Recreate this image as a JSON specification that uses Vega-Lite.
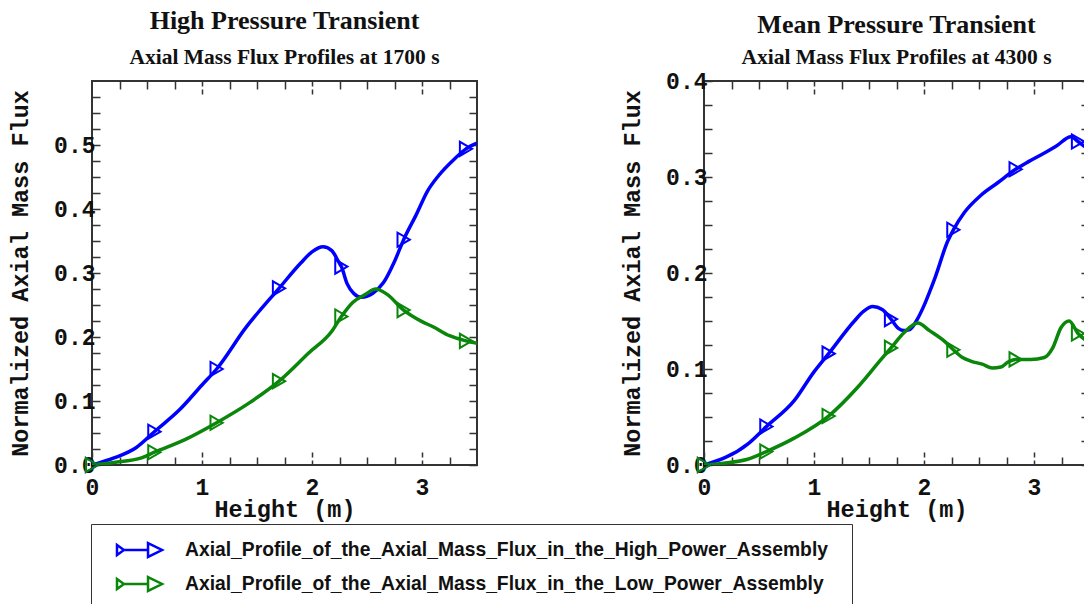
{
  "$schema": "https://vega.github.io/schema/vega-lite/v6.json",
  "background": "white",
  "padding": {"left": 7, "top": 6, "right": 0, "bottom": 0},
  "datasets": {
    "hp": [
      {"h": 0, "v": 0, "s": "Axial_Profile_of_the_Axial_Mass_Flux_in_the_High_Power_Assembly", "m": 1},
      {"h": 0.2, "v": 0.011, "s": "Axial_Profile_of_the_Axial_Mass_Flux_in_the_High_Power_Assembly", "m": 0},
      {"h": 0.4, "v": 0.027, "s": "Axial_Profile_of_the_Axial_Mass_Flux_in_the_High_Power_Assembly", "m": 0},
      {"h": 0.567, "v": 0.052, "s": "Axial_Profile_of_the_Axial_Mass_Flux_in_the_High_Power_Assembly", "m": 1},
      {"h": 0.8, "v": 0.087, "s": "Axial_Profile_of_the_Axial_Mass_Flux_in_the_High_Power_Assembly", "m": 0},
      {"h": 1.0, "v": 0.125, "s": "Axial_Profile_of_the_Axial_Mass_Flux_in_the_High_Power_Assembly", "m": 0},
      {"h": 1.133, "v": 0.15, "s": "Axial_Profile_of_the_Axial_Mass_Flux_in_the_High_Power_Assembly", "m": 1},
      {"h": 1.4, "v": 0.215, "s": "Axial_Profile_of_the_Axial_Mass_Flux_in_the_High_Power_Assembly", "m": 0},
      {"h": 1.7, "v": 0.276, "s": "Axial_Profile_of_the_Axial_Mass_Flux_in_the_High_Power_Assembly", "m": 1},
      {"h": 1.9, "v": 0.316, "s": "Axial_Profile_of_the_Axial_Mass_Flux_in_the_High_Power_Assembly", "m": 0},
      {"h": 2.0, "v": 0.333, "s": "Axial_Profile_of_the_Axial_Mass_Flux_in_the_High_Power_Assembly", "m": 0},
      {"h": 2.1, "v": 0.341, "s": "Axial_Profile_of_the_Axial_Mass_Flux_in_the_High_Power_Assembly", "m": 0},
      {"h": 2.18, "v": 0.335, "s": "Axial_Profile_of_the_Axial_Mass_Flux_in_the_High_Power_Assembly", "m": 0},
      {"h": 2.24, "v": 0.318, "s": "Axial_Profile_of_the_Axial_Mass_Flux_in_the_High_Power_Assembly", "m": 0},
      {"h": 2.267, "v": 0.31, "s": "Axial_Profile_of_the_Axial_Mass_Flux_in_the_High_Power_Assembly", "m": 1},
      {"h": 2.32, "v": 0.283, "s": "Axial_Profile_of_the_Axial_Mass_Flux_in_the_High_Power_Assembly", "m": 0},
      {"h": 2.38, "v": 0.268, "s": "Axial_Profile_of_the_Axial_Mass_Flux_in_the_High_Power_Assembly", "m": 0},
      {"h": 2.45, "v": 0.262, "s": "Axial_Profile_of_the_Axial_Mass_Flux_in_the_High_Power_Assembly", "m": 0},
      {"h": 2.55, "v": 0.268, "s": "Axial_Profile_of_the_Axial_Mass_Flux_in_the_High_Power_Assembly", "m": 0},
      {"h": 2.65, "v": 0.285, "s": "Axial_Profile_of_the_Axial_Mass_Flux_in_the_High_Power_Assembly", "m": 0},
      {"h": 2.75, "v": 0.318, "s": "Axial_Profile_of_the_Axial_Mass_Flux_in_the_High_Power_Assembly", "m": 0},
      {"h": 2.833, "v": 0.352, "s": "Axial_Profile_of_the_Axial_Mass_Flux_in_the_High_Power_Assembly", "m": 1},
      {"h": 2.95, "v": 0.392, "s": "Axial_Profile_of_the_Axial_Mass_Flux_in_the_High_Power_Assembly", "m": 0},
      {"h": 3.05, "v": 0.428, "s": "Axial_Profile_of_the_Axial_Mass_Flux_in_the_High_Power_Assembly", "m": 0},
      {"h": 3.15, "v": 0.452, "s": "Axial_Profile_of_the_Axial_Mass_Flux_in_the_High_Power_Assembly", "m": 0},
      {"h": 3.3, "v": 0.479, "s": "Axial_Profile_of_the_Axial_Mass_Flux_in_the_High_Power_Assembly", "m": 0},
      {"h": 3.4, "v": 0.494, "s": "Axial_Profile_of_the_Axial_Mass_Flux_in_the_High_Power_Assembly", "m": 1},
      {"h": 3.5, "v": 0.503, "s": "Axial_Profile_of_the_Axial_Mass_Flux_in_the_High_Power_Assembly", "m": 0},
      {"h": 0, "v": 0, "s": "Axial_Profile_of_the_Axial_Mass_Flux_in_the_Low_Power_Assembly", "m": 1},
      {"h": 0.2, "v": 0.004, "s": "Axial_Profile_of_the_Axial_Mass_Flux_in_the_Low_Power_Assembly", "m": 0},
      {"h": 0.45, "v": 0.011, "s": "Axial_Profile_of_the_Axial_Mass_Flux_in_the_Low_Power_Assembly", "m": 0},
      {"h": 0.567, "v": 0.02, "s": "Axial_Profile_of_the_Axial_Mass_Flux_in_the_Low_Power_Assembly", "m": 1},
      {"h": 0.85, "v": 0.04, "s": "Axial_Profile_of_the_Axial_Mass_Flux_in_the_Low_Power_Assembly", "m": 0},
      {"h": 1.133, "v": 0.066, "s": "Axial_Profile_of_the_Axial_Mass_Flux_in_the_Low_Power_Assembly", "m": 1},
      {"h": 1.43, "v": 0.097, "s": "Axial_Profile_of_the_Axial_Mass_Flux_in_the_Low_Power_Assembly", "m": 0},
      {"h": 1.7, "v": 0.131, "s": "Axial_Profile_of_the_Axial_Mass_Flux_in_the_Low_Power_Assembly", "m": 1},
      {"h": 1.97, "v": 0.175, "s": "Axial_Profile_of_the_Axial_Mass_Flux_in_the_Low_Power_Assembly", "m": 0},
      {"h": 2.18, "v": 0.209, "s": "Axial_Profile_of_the_Axial_Mass_Flux_in_the_Low_Power_Assembly", "m": 0},
      {"h": 2.267, "v": 0.232, "s": "Axial_Profile_of_the_Axial_Mass_Flux_in_the_Low_Power_Assembly", "m": 1},
      {"h": 2.37, "v": 0.254, "s": "Axial_Profile_of_the_Axial_Mass_Flux_in_the_Low_Power_Assembly", "m": 0},
      {"h": 2.48, "v": 0.266, "s": "Axial_Profile_of_the_Axial_Mass_Flux_in_the_Low_Power_Assembly", "m": 0},
      {"h": 2.58, "v": 0.275, "s": "Axial_Profile_of_the_Axial_Mass_Flux_in_the_Low_Power_Assembly", "m": 0},
      {"h": 2.68, "v": 0.267, "s": "Axial_Profile_of_the_Axial_Mass_Flux_in_the_Low_Power_Assembly", "m": 0},
      {"h": 2.833, "v": 0.242, "s": "Axial_Profile_of_the_Axial_Mass_Flux_in_the_Low_Power_Assembly", "m": 1},
      {"h": 3.0, "v": 0.224, "s": "Axial_Profile_of_the_Axial_Mass_Flux_in_the_Low_Power_Assembly", "m": 0},
      {"h": 3.1, "v": 0.216, "s": "Axial_Profile_of_the_Axial_Mass_Flux_in_the_Low_Power_Assembly", "m": 0},
      {"h": 3.25, "v": 0.202, "s": "Axial_Profile_of_the_Axial_Mass_Flux_in_the_Low_Power_Assembly", "m": 0},
      {"h": 3.4, "v": 0.194, "s": "Axial_Profile_of_the_Axial_Mass_Flux_in_the_Low_Power_Assembly", "m": 1},
      {"h": 3.5, "v": 0.19, "s": "Axial_Profile_of_the_Axial_Mass_Flux_in_the_Low_Power_Assembly", "m": 0}
    ],
    "mp": [
      {"h": 0, "v": 0, "s": "Axial_Profile_of_the_Axial_Mass_Flux_in_the_High_Power_Assembly", "m": 1},
      {"h": 0.4, "v": 0.022, "s": "Axial_Profile_of_the_Axial_Mass_Flux_in_the_High_Power_Assembly", "m": 0},
      {"h": 0.567, "v": 0.04, "s": "Axial_Profile_of_the_Axial_Mass_Flux_in_the_High_Power_Assembly", "m": 1},
      {"h": 0.82, "v": 0.067, "s": "Axial_Profile_of_the_Axial_Mass_Flux_in_the_High_Power_Assembly", "m": 0},
      {"h": 1.0, "v": 0.097, "s": "Axial_Profile_of_the_Axial_Mass_Flux_in_the_High_Power_Assembly", "m": 0},
      {"h": 1.133, "v": 0.116, "s": "Axial_Profile_of_the_Axial_Mass_Flux_in_the_High_Power_Assembly", "m": 1},
      {"h": 1.367, "v": 0.15, "s": "Axial_Profile_of_the_Axial_Mass_Flux_in_the_High_Power_Assembly", "m": 0},
      {"h": 1.45, "v": 0.16, "s": "Axial_Profile_of_the_Axial_Mass_Flux_in_the_High_Power_Assembly", "m": 0},
      {"h": 1.534, "v": 0.165, "s": "Axial_Profile_of_the_Axial_Mass_Flux_in_the_High_Power_Assembly", "m": 0},
      {"h": 1.62, "v": 0.162, "s": "Axial_Profile_of_the_Axial_Mass_Flux_in_the_High_Power_Assembly", "m": 0},
      {"h": 1.7, "v": 0.152, "s": "Axial_Profile_of_the_Axial_Mass_Flux_in_the_High_Power_Assembly", "m": 1},
      {"h": 1.77, "v": 0.142, "s": "Axial_Profile_of_the_Axial_Mass_Flux_in_the_High_Power_Assembly", "m": 0},
      {"h": 1.82, "v": 0.14, "s": "Axial_Profile_of_the_Axial_Mass_Flux_in_the_High_Power_Assembly", "m": 0},
      {"h": 1.87, "v": 0.141, "s": "Axial_Profile_of_the_Axial_Mass_Flux_in_the_High_Power_Assembly", "m": 0},
      {"h": 1.94, "v": 0.152, "s": "Axial_Profile_of_the_Axial_Mass_Flux_in_the_High_Power_Assembly", "m": 0},
      {"h": 2.0, "v": 0.166, "s": "Axial_Profile_of_the_Axial_Mass_Flux_in_the_High_Power_Assembly", "m": 0},
      {"h": 2.05, "v": 0.18, "s": "Axial_Profile_of_the_Axial_Mass_Flux_in_the_High_Power_Assembly", "m": 0},
      {"h": 2.1, "v": 0.195, "s": "Axial_Profile_of_the_Axial_Mass_Flux_in_the_High_Power_Assembly", "m": 0},
      {"h": 2.215, "v": 0.233, "s": "Axial_Profile_of_the_Axial_Mass_Flux_in_the_High_Power_Assembly", "m": 0},
      {"h": 2.267, "v": 0.245, "s": "Axial_Profile_of_the_Axial_Mass_Flux_in_the_High_Power_Assembly", "m": 1},
      {"h": 2.367, "v": 0.263, "s": "Axial_Profile_of_the_Axial_Mass_Flux_in_the_High_Power_Assembly", "m": 0},
      {"h": 2.518, "v": 0.281, "s": "Axial_Profile_of_the_Axial_Mass_Flux_in_the_High_Power_Assembly", "m": 0},
      {"h": 2.67, "v": 0.294, "s": "Axial_Profile_of_the_Axial_Mass_Flux_in_the_High_Power_Assembly", "m": 0},
      {"h": 2.833, "v": 0.308, "s": "Axial_Profile_of_the_Axial_Mass_Flux_in_the_High_Power_Assembly", "m": 1},
      {"h": 2.95, "v": 0.316, "s": "Axial_Profile_of_the_Axial_Mass_Flux_in_the_High_Power_Assembly", "m": 0},
      {"h": 3.094, "v": 0.325, "s": "Axial_Profile_of_the_Axial_Mass_Flux_in_the_High_Power_Assembly", "m": 0},
      {"h": 3.2, "v": 0.332, "s": "Axial_Profile_of_the_Axial_Mass_Flux_in_the_High_Power_Assembly", "m": 0},
      {"h": 3.336, "v": 0.342, "s": "Axial_Profile_of_the_Axial_Mass_Flux_in_the_High_Power_Assembly", "m": 0},
      {"h": 3.4, "v": 0.337, "s": "Axial_Profile_of_the_Axial_Mass_Flux_in_the_High_Power_Assembly", "m": 1},
      {"h": 3.5, "v": 0.328, "s": "Axial_Profile_of_the_Axial_Mass_Flux_in_the_High_Power_Assembly", "m": 0},
      {"h": 0, "v": 0, "s": "Axial_Profile_of_the_Axial_Mass_Flux_in_the_Low_Power_Assembly", "m": 1},
      {"h": 0.397, "v": 0.006, "s": "Axial_Profile_of_the_Axial_Mass_Flux_in_the_Low_Power_Assembly", "m": 0},
      {"h": 0.567, "v": 0.014, "s": "Axial_Profile_of_the_Axial_Mass_Flux_in_the_Low_Power_Assembly", "m": 1},
      {"h": 0.82, "v": 0.028, "s": "Axial_Profile_of_the_Axial_Mass_Flux_in_the_Low_Power_Assembly", "m": 0},
      {"h": 1.133, "v": 0.051, "s": "Axial_Profile_of_the_Axial_Mass_Flux_in_the_Low_Power_Assembly", "m": 1},
      {"h": 1.397, "v": 0.081, "s": "Axial_Profile_of_the_Axial_Mass_Flux_in_the_Low_Power_Assembly", "m": 0},
      {"h": 1.61, "v": 0.11, "s": "Axial_Profile_of_the_Axial_Mass_Flux_in_the_Low_Power_Assembly", "m": 0},
      {"h": 1.7, "v": 0.122, "s": "Axial_Profile_of_the_Axial_Mass_Flux_in_the_Low_Power_Assembly", "m": 1},
      {"h": 1.82, "v": 0.138, "s": "Axial_Profile_of_the_Axial_Mass_Flux_in_the_Low_Power_Assembly", "m": 0},
      {"h": 1.943, "v": 0.148, "s": "Axial_Profile_of_the_Axial_Mass_Flux_in_the_Low_Power_Assembly", "m": 0},
      {"h": 2.05, "v": 0.14, "s": "Axial_Profile_of_the_Axial_Mass_Flux_in_the_Low_Power_Assembly", "m": 0},
      {"h": 2.185, "v": 0.129, "s": "Axial_Profile_of_the_Axial_Mass_Flux_in_the_Low_Power_Assembly", "m": 0},
      {"h": 2.267, "v": 0.12, "s": "Axial_Profile_of_the_Axial_Mass_Flux_in_the_Low_Power_Assembly", "m": 1},
      {"h": 2.35, "v": 0.112, "s": "Axial_Profile_of_the_Axial_Mass_Flux_in_the_Low_Power_Assembly", "m": 0},
      {"h": 2.43, "v": 0.108, "s": "Axial_Profile_of_the_Axial_Mass_Flux_in_the_Low_Power_Assembly", "m": 0},
      {"h": 2.53, "v": 0.105, "s": "Axial_Profile_of_the_Axial_Mass_Flux_in_the_Low_Power_Assembly", "m": 0},
      {"h": 2.62, "v": 0.101, "s": "Axial_Profile_of_the_Axial_Mass_Flux_in_the_Low_Power_Assembly", "m": 0},
      {"h": 2.7, "v": 0.102, "s": "Axial_Profile_of_the_Axial_Mass_Flux_in_the_Low_Power_Assembly", "m": 0},
      {"h": 2.76, "v": 0.107, "s": "Axial_Profile_of_the_Axial_Mass_Flux_in_the_Low_Power_Assembly", "m": 0},
      {"h": 2.833, "v": 0.11, "s": "Axial_Profile_of_the_Axial_Mass_Flux_in_the_Low_Power_Assembly", "m": 1},
      {"h": 2.97, "v": 0.11, "s": "Axial_Profile_of_the_Axial_Mass_Flux_in_the_Low_Power_Assembly", "m": 0},
      {"h": 3.094, "v": 0.112, "s": "Axial_Profile_of_the_Axial_Mass_Flux_in_the_Low_Power_Assembly", "m": 0},
      {"h": 3.17, "v": 0.122, "s": "Axial_Profile_of_the_Axial_Mass_Flux_in_the_Low_Power_Assembly", "m": 0},
      {"h": 3.245, "v": 0.143, "s": "Axial_Profile_of_the_Axial_Mass_Flux_in_the_Low_Power_Assembly", "m": 0},
      {"h": 3.32, "v": 0.15, "s": "Axial_Profile_of_the_Axial_Mass_Flux_in_the_Low_Power_Assembly", "m": 0},
      {"h": 3.4, "v": 0.137, "s": "Axial_Profile_of_the_Axial_Mass_Flux_in_the_Low_Power_Assembly", "m": 1},
      {"h": 3.46, "v": 0.131, "s": "Axial_Profile_of_the_Axial_Mass_Flux_in_the_Low_Power_Assembly", "m": 0},
      {"h": 3.5, "v": 0.128, "s": "Axial_Profile_of_the_Axial_Mass_Flux_in_the_Low_Power_Assembly", "m": 0}
    ]
  },
  "spacing": 140,
  "resolve": {"scale": {"color": "shared"}},
  "hconcat": [
    {
      "width": 385,
      "height": 384,
      "title": {"text": "High Pressure Transient", "subtitle": "Axial Mass Flux Profiles at 1700 s", "offset": 12, "subtitlePadding": 13},
      "data": {"name": "hp"},
      "resolve": {"axis": {"x": "independent", "y": "independent"}},
      "layer": [
        {
          "transform": [{"filter": "indexof(datum.s, 'High') >= 0"}],
          "mark": {"type": "line", "strokeWidth": 3.5, "interpolate": "monotone", "clip": true},
          "encoding": {
            "x": {"field": "h", "type": "quantitative", "scale": {"domain": [0, 3.5], "nice": false, "zero": false},
                  "axis": {"orient": "bottom", "values": [0, 1, 2, 3], "format": "d", "title": "Height (m)", "tickSize": -16, "tickDash": [5, 3], "labelPadding": 27, "titlePadding": -2, "labelFlush": false}},
            "y": {"field": "v", "type": "quantitative", "scale": {"domain": [0, 0.6], "nice": false},
                  "axis": {"orient": "left", "values": [0, 0.025, 0.05, 0.075, 0.1, 0.125, 0.15, 0.175, 0.2, 0.225, 0.25, 0.275, 0.3, 0.325, 0.35, 0.375, 0.4, 0.425, 0.45, 0.475, 0.5, 0.525, 0.55, 0.575],
                           "labelExpr": "abs(datum.value * 10 - round(datum.value * 10)) < 0.001 ? format(datum.value, '.1f') : ''",
                           "title": "Normalized Axial Mass Flux", "tickSize": -8, "labelPadding": 5, "titlePadding": 21}},
            "color": {"field": "s", "type": "nominal",
                      "scale": {"domain": ["Axial_Profile_of_the_Axial_Mass_Flux_in_the_High_Power_Assembly", "Axial_Profile_of_the_Axial_Mass_Flux_in_the_Low_Power_Assembly"], "range": ["#0000ff", "#0a870a"]},
                      "legend": {"orient": "none", "legendX": -1, "legendY": 443, "direction": "vertical",
                                 "title": " ", "titleOrient": "right", "titlePadding": 15, "titleFontSize": 10,
                                 "strokeColor": "#333", "padding": 9, "rowPadding": 5,
                                 "symbolType": "M0,-0.32L0.44,0L0,0.32ZM0.44,0L1.97,0M1.97,-0.44L2.86,0L1.97,0.44Z",
                                 "symbolSize": 992, "symbolStrokeWidth": 2.5, "symbolFillColor": "transparent",
                                 "labelFont": "Liberation Sans", "labelFontSize": 19.3, "labelFontWeight": "bold", "labelColor": "#111",
                                 "labelOffset": 51, "labelLimit": 0}}
          }
        },
        {
          "transform": [{"filter": "indexof(datum.s, 'Low') >= 0"}],
          "mark": {"type": "line", "strokeWidth": 3.5, "interpolate": "monotone", "clip": true},
          "encoding": {
            "x": {"field": "h", "type": "quantitative",
                  "axis": {"orient": "top", "values": [0.25, 0.5, 0.75, 1.25, 1.5, 1.75, 2.25, 2.5, 2.75, 3.25], "labels": false, "title": null, "tickSize": -8}},
            "y": {"field": "v", "type": "quantitative",
                  "axis": {"orient": "right", "values": [0, 0.025, 0.05, 0.075, 0.1, 0.125, 0.15, 0.175, 0.2, 0.225, 0.25, 0.275, 0.3, 0.325, 0.35, 0.375, 0.4, 0.425, 0.45, 0.475, 0.5, 0.525, 0.55, 0.575], "labels": false, "title": null, "tickSize": -8}},
            "color": {"field": "s", "type": "nominal"}
          }
        },
        {
          "transform": [{"filter": "datum.m == 1 && indexof(datum.s, 'High') >= 0"}],
          "mark": {"type": "point", "shape": "triangle-right", "filled": false, "strokeWidth": 2, "size": 200, "opacity": 1},
          "encoding": {
            "x": {"field": "h", "type": "quantitative",
                  "axis": {"orient": "top", "values": [1, 2, 3], "labels": false, "title": null, "tickSize": -16, "tickDash": [5, 3]}},
            "y": {"field": "v", "type": "quantitative", "axis": null},
            "color": {"field": "s", "type": "nominal", "legend": null}
          }
        },
        {
          "transform": [{"filter": "datum.m == 1 && indexof(datum.s, 'Low') >= 0"}],
          "mark": {"type": "point", "shape": "triangle-right", "filled": false, "strokeWidth": 2, "size": 200, "opacity": 1},
          "encoding": {
            "x": {"field": "h", "type": "quantitative",
                  "axis": {"orient": "bottom", "values": [0.25, 0.5, 0.75, 1.25, 1.5, 1.75, 2.25, 2.5, 2.75, 3.25], "labels": false, "title": null, "tickSize": -8}},
            "y": {"field": "v", "type": "quantitative", "axis": null},
            "color": {"field": "s", "type": "nominal", "legend": null}
          }
        }
      ]
    },
    {
      "width": 385,
      "height": 384,
      "title": {"text": "Mean Pressure Transient", "subtitle": "Axial Mass Flux Profiles at 4300 s", "offset": 1.5, "subtitlePadding": 9},
      "data": {"name": "mp"},
      "resolve": {"axis": {"x": "independent", "y": "independent"}},
      "layer": [
        {
          "transform": [{"filter": "indexof(datum.s, 'High') >= 0"}],
          "mark": {"type": "line", "strokeWidth": 3.5, "interpolate": "monotone", "clip": true},
          "encoding": {
            "x": {"field": "h", "type": "quantitative", "scale": {"domain": [0, 3.5], "nice": false, "zero": false},
                  "axis": {"orient": "bottom", "values": [0, 1, 2, 3], "format": "d", "title": "Height (m)", "tickSize": -16, "tickDash": [5, 3], "labelPadding": 27, "titlePadding": -2, "labelFlush": false}},
            "y": {"field": "v", "type": "quantitative", "scale": {"domain": [0, 0.4], "nice": false},
                  "axis": {"orient": "left", "values": [0, 0.025, 0.05, 0.075, 0.1, 0.125, 0.15, 0.175, 0.2, 0.225, 0.25, 0.275, 0.3, 0.325, 0.35, 0.375, 0.4],
                           "labelExpr": "abs(datum.value * 10 - round(datum.value * 10)) < 0.001 ? format(datum.value, '.1f') : ''",
                           "title": "Normalized Axial Mass Flux", "tickSize": -8, "labelPadding": 5, "titlePadding": 21}},
            "color": {"field": "s", "type": "nominal"}
          }
        },
        {
          "transform": [{"filter": "indexof(datum.s, 'Low') >= 0"}],
          "mark": {"type": "line", "strokeWidth": 3.5, "interpolate": "monotone", "clip": true},
          "encoding": {
            "x": {"field": "h", "type": "quantitative",
                  "axis": {"orient": "top", "values": [0.25, 0.5, 0.75, 1.25, 1.5, 1.75, 2.25, 2.5, 2.75, 3.25], "labels": false, "title": null, "tickSize": -8}},
            "y": {"field": "v", "type": "quantitative",
                  "axis": {"orient": "right", "values": [0, 0.025, 0.05, 0.075, 0.1, 0.125, 0.15, 0.175, 0.2, 0.225, 0.25, 0.275, 0.3, 0.325, 0.35, 0.375, 0.4], "labels": false, "title": null, "tickSize": -8}},
            "color": {"field": "s", "type": "nominal"}
          }
        },
        {
          "transform": [{"filter": "datum.m == 1 && indexof(datum.s, 'High') >= 0"}],
          "mark": {"type": "point", "shape": "triangle-right", "filled": false, "strokeWidth": 2, "size": 200, "opacity": 1},
          "encoding": {
            "x": {"field": "h", "type": "quantitative",
                  "axis": {"orient": "top", "values": [1, 2, 3], "labels": false, "title": null, "tickSize": -16, "tickDash": [5, 3]}},
            "y": {"field": "v", "type": "quantitative", "axis": null},
            "color": {"field": "s", "type": "nominal", "legend": null}
          }
        },
        {
          "transform": [{"filter": "datum.m == 1 && indexof(datum.s, 'Low') >= 0"}],
          "mark": {"type": "point", "shape": "triangle-right", "filled": false, "strokeWidth": 2, "size": 200, "opacity": 1},
          "encoding": {
            "x": {"field": "h", "type": "quantitative",
                  "axis": {"orient": "bottom", "values": [0.25, 0.5, 0.75, 1.25, 1.5, 1.75, 2.25, 2.5, 2.75, 3.25], "labels": false, "title": null, "tickSize": -8}},
            "y": {"field": "v", "type": "quantitative", "axis": null},
            "color": {"field": "s", "type": "nominal", "legend": null}
          }
        }
      ]
    }
  ],
  "config": {
    "view": {"stroke": "#333", "strokeWidth": 2},
    "axis": {"domain": false, "grid": false, "tickColor": "#333", "tickWidth": 1.5,
             "labelFont": "Liberation Mono", "labelFontWeight": "bold", "labelFontSize": 23, "labelColor": "#111",
             "titleFont": "Liberation Mono", "titleFontWeight": "bold", "titleFontSize": 23.5, "titleColor": "#111"},
    "title": {"font": "Liberation Serif", "fontSize": 26, "fontWeight": "bold", "color": "#111",
              "subtitleFont": "Liberation Serif", "subtitleFontSize": 21.5, "subtitleFontWeight": "bold", "subtitleColor": "#111",
              "anchor": "middle"}
  }
}
